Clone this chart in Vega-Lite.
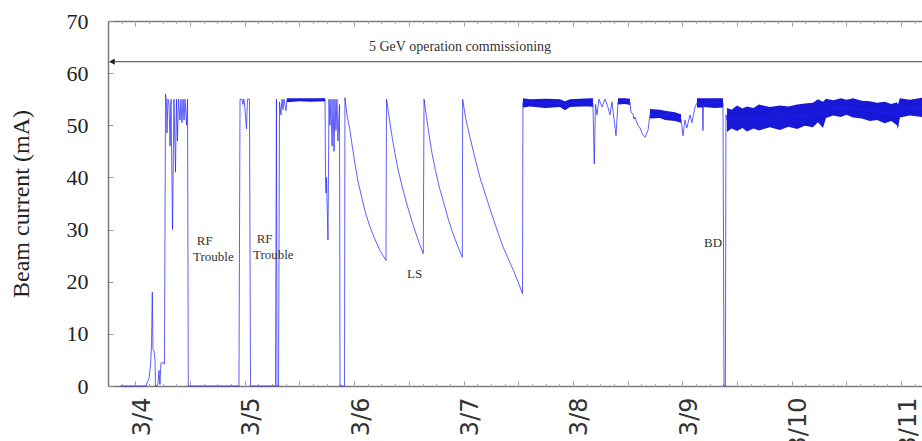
{
  "$schema": "https://vega.github.io/schema/vega-lite/v6.json",
  "width": 814,
  "height": 365,
  "autosize": "none",
  "padding": {"left": 108, "top": 21, "right": 0, "bottom": 55},
  "background": "white",
  "view": {"stroke": null},
  "config": {"font": "Liberation Serif", "axis": {"grid": false}},
  "datasets": {
    "beam": [
      {"day": 3.860, "mA": 0}, {"day": 4.097, "mA": 0}, {"day": 4.111, "mA": 0.8}, {"day": 4.125, "mA": 1.5},
      {"day": 4.139, "mA": 4}, {"day": 4.148, "mA": 8}, {"day": 4.155, "mA": 18}, {"day": 4.161, "mA": 7},
      {"day": 4.170, "mA": 6.8}, {"day": 4.180, "mA": 5}, {"day": 4.184, "mA": 0}, {"day": 4.198, "mA": 0},
      {"day": 4.207, "mA": 0.5}, {"day": 4.216, "mA": 3}, {"day": 4.225, "mA": 0.3}, {"day": 4.234, "mA": 4.4},
      {"day": 4.253, "mA": 4.5}, {"day": 4.266, "mA": 4.2}, {"day": 4.276, "mA": 56}, {"day": 4.285, "mA": 54.5},
      {"day": 4.289, "mA": 48.5}, {"day": 4.298, "mA": 55}, {"day": 4.308, "mA": 54.2}, {"day": 4.317, "mA": 46},
      {"day": 4.326, "mA": 55}, {"day": 4.340, "mA": 30}, {"day": 4.353, "mA": 55}, {"day": 4.367, "mA": 41},
      {"day": 4.376, "mA": 55}, {"day": 4.385, "mA": 47}, {"day": 4.394, "mA": 55}, {"day": 4.408, "mA": 51},
      {"day": 4.417, "mA": 55}, {"day": 4.426, "mA": 50.5}, {"day": 4.436, "mA": 55}, {"day": 4.445, "mA": 51},
      {"day": 4.454, "mA": 55}, {"day": 4.468, "mA": 50}, {"day": 4.477, "mA": 55}, {"day": 4.484, "mA": 0},
      {"day": 4.947, "mA": 0}, {"day": 4.957, "mA": 55}, {"day": 4.975, "mA": 55}, {"day": 4.984, "mA": 54},
      {"day": 4.993, "mA": 55}, {"day": 5.002, "mA": 53}, {"day": 5.016, "mA": 49.3}, {"day": 5.025, "mA": 55},
      {"day": 5.043, "mA": 55}, {"day": 5.053, "mA": 0}, {"day": 5.281, "mA": 0}, {"day": 5.290, "mA": 55},
      {"day": 5.295, "mA": 0}, {"day": 5.309, "mA": 0}, {"day": 5.318, "mA": 54.5}, {"day": 5.331, "mA": 52},
      {"day": 5.341, "mA": 55}, {"day": 5.350, "mA": 53}, {"day": 5.359, "mA": 55}, {"day": 5.377, "mA": 52.8},
      {"day": 5.386, "mA": 55}, {"day": 5.414, "mA": 54.9}, {"day": 5.734, "mA": 55}, {"day": 5.738, "mA": 41},
      {"day": 5.743, "mA": 37}, {"day": 5.747, "mA": 40}, {"day": 5.761, "mA": 28}, {"day": 5.770, "mA": 55},
      {"day": 5.779, "mA": 50}, {"day": 5.788, "mA": 55}, {"day": 5.798, "mA": 46}, {"day": 5.807, "mA": 55},
      {"day": 5.816, "mA": 45}, {"day": 5.825, "mA": 55}, {"day": 5.834, "mA": 49}, {"day": 5.843, "mA": 55},
      {"day": 5.852, "mA": 47}, {"day": 5.866, "mA": 54}, {"day": 5.871, "mA": 0}, {"day": 5.912, "mA": 0},
      {"day": 5.916, "mA": 55.3}, {"day": 5.935, "mA": 52}, {"day": 5.962, "mA": 49}, {"day": 5.985, "mA": 45.7},
      {"day": 6.008, "mA": 42.6}, {"day": 6.035, "mA": 39.3}, {"day": 6.069, "mA": 36.2}, {"day": 6.104, "mA": 33.2},
      {"day": 6.145, "mA": 30.5}, {"day": 6.191, "mA": 28.1}, {"day": 6.236, "mA": 26}, {"day": 6.291, "mA": 24.1},
      {"day": 6.296, "mA": 55}, {"day": 6.319, "mA": 51.7}, {"day": 6.343, "mA": 48.3}, {"day": 6.373, "mA": 44.6},
      {"day": 6.404, "mA": 41.3}, {"day": 6.442, "mA": 38}, {"day": 6.480, "mA": 35}, {"day": 6.520, "mA": 32.2},
      {"day": 6.556, "mA": 29.8}, {"day": 6.593, "mA": 27.5}, {"day": 6.632, "mA": 25.4}, {"day": 6.639, "mA": 55},
      {"day": 6.661, "mA": 51.7}, {"day": 6.684, "mA": 48.3}, {"day": 6.712, "mA": 44.6}, {"day": 6.744, "mA": 41.3},
      {"day": 6.780, "mA": 38}, {"day": 6.821, "mA": 35}, {"day": 6.858, "mA": 32.2}, {"day": 6.894, "mA": 29.8},
      {"day": 6.940, "mA": 27.2}, {"day": 6.989, "mA": 24.7}, {"day": 6.992, "mA": 55}, {"day": 7.018, "mA": 51.5},
      {"day": 7.059, "mA": 47.7}, {"day": 7.105, "mA": 43.7}, {"day": 7.150, "mA": 40}, {"day": 7.205, "mA": 36.4},
      {"day": 7.257, "mA": 33}, {"day": 7.310, "mA": 29.7}, {"day": 7.363, "mA": 26.6}, {"day": 7.411, "mA": 24.3},
      {"day": 7.455, "mA": 22.2}, {"day": 7.498, "mA": 20}, {"day": 7.539, "mA": 17.7}, {"day": 7.543, "mA": 54.5},
      {"day": 7.607, "mA": 54.3}, {"day": 7.882, "mA": 54.2}, {"day": 7.927, "mA": 53.8}, {"day": 7.973, "mA": 54.2},
      {"day": 8.156, "mA": 54.3}, {"day": 8.183, "mA": 54.3}, {"day": 8.195, "mA": 42.6}, {"day": 8.206, "mA": 54},
      {"day": 8.220, "mA": 52}, {"day": 8.238, "mA": 55}, {"day": 8.266, "mA": 53.5}, {"day": 8.293, "mA": 55},
      {"day": 8.320, "mA": 53.5}, {"day": 8.339, "mA": 52}, {"day": 8.357, "mA": 54.5}, {"day": 8.394, "mA": 48},
      {"day": 8.412, "mA": 54.5}, {"day": 8.476, "mA": 54.8}, {"day": 8.521, "mA": 54.5}, {"day": 8.531, "mA": 52.5},
      {"day": 8.549, "mA": 52.2}, {"day": 8.558, "mA": 51.2}, {"day": 8.567, "mA": 51.6}, {"day": 8.59, "mA": 50.2},
      {"day": 8.613, "mA": 49.5}, {"day": 8.636, "mA": 48.3}, {"day": 8.659, "mA": 47.7}, {"day": 8.686, "mA": 49},
      {"day": 8.704, "mA": 52}, {"day": 8.796, "mA": 52.2}, {"day": 8.933, "mA": 51.6}, {"day": 8.988, "mA": 51.2},
      {"day": 9.006, "mA": 48}, {"day": 9.024, "mA": 51}, {"day": 9.042, "mA": 49.5}, {"day": 9.070, "mA": 52},
      {"day": 9.088, "mA": 50.5}, {"day": 9.116, "mA": 53.5}, {"day": 9.134, "mA": 54.3}, {"day": 9.184, "mA": 54},
      {"day": 9.189, "mA": 49}, {"day": 9.193, "mA": 54}, {"day": 9.298, "mA": 54.4}, {"day": 9.372, "mA": 54.3},
      {"day": 9.381, "mA": 0}, {"day": 9.394, "mA": 0}, {"day": 9.399, "mA": 52}, {"day": 9.408, "mA": 51},
      {"day": 9.591, "mA": 51.2}, {"day": 9.893, "mA": 51.5}, {"day": 10.194, "mA": 52}, {"day": 10.240, "mA": 52.8},
      {"day": 10.286, "mA": 52}, {"day": 10.313, "mA": 53.2}, {"day": 10.560, "mA": 53.3}, {"day": 10.715, "mA": 52.7},
      {"day": 10.962, "mA": 52.2}, {"day": 10.971, "mA": 51.6}, {"day": 10.989, "mA": 53.3}, {"day": 11.191, "mA": 53.4}
    ],
    "band": [
      {"seg": "a", "day": 5.386, "lo": 54.4, "hi": 55.2}, {"seg": "a", "day": 5.5, "lo": 54.6, "hi": 55.2},
      {"seg": "a", "day": 5.6, "lo": 54.5, "hi": 55.2}, {"seg": "a", "day": 5.734, "lo": 54.6, "hi": 55.2},
      {"seg": "b", "day": 7.543, "lo": 53.4, "hi": 55.2}, {"seg": "b", "day": 7.607, "lo": 53.6, "hi": 55.0},
      {"seg": "b", "day": 7.75, "lo": 53.3, "hi": 55.1}, {"seg": "b", "day": 7.882, "lo": 53.5, "hi": 55.0},
      {"seg": "b", "day": 7.927, "lo": 52.9, "hi": 54.6}, {"seg": "b", "day": 7.973, "lo": 53.5, "hi": 55.0},
      {"seg": "b", "day": 8.07, "lo": 53.6, "hi": 55.1}, {"seg": "b", "day": 8.156, "lo": 53.6, "hi": 55.2},
      {"seg": "b", "day": 8.183, "lo": 53.5, "hi": 55.2},
      {"seg": "c", "day": 8.412, "lo": 54.0, "hi": 55.2}, {"seg": "c", "day": 8.476, "lo": 54.1, "hi": 55.2},
      {"seg": "c", "day": 8.521, "lo": 53.9, "hi": 55.1},
      {"seg": "d", "day": 8.704, "lo": 51.3, "hi": 53.1}, {"seg": "d", "day": 8.796, "lo": 51.4, "hi": 53.0},
      {"seg": "d", "day": 8.841, "lo": 51.0, "hi": 52.8}, {"seg": "d", "day": 8.933, "lo": 50.8, "hi": 52.5},
      {"seg": "d", "day": 8.988, "lo": 50.5, "hi": 52.1},
      {"seg": "e", "day": 9.134, "lo": 53.4, "hi": 55.2}, {"seg": "e", "day": 9.184, "lo": 53.4, "hi": 55.2},
      {"seg": "e", "day": 9.193, "lo": 53.5, "hi": 55.2}, {"seg": "e", "day": 9.298, "lo": 53.3, "hi": 55.2},
      {"seg": "e", "day": 9.372, "lo": 53.4, "hi": 55.2},
      {"seg": "f", "day": 9.408, "lo": 48.7, "hi": 53.3}, {"seg": "f", "day": 9.45, "lo": 49.4, "hi": 53.0},
      {"seg": "f", "day": 9.5, "lo": 48.9, "hi": 53.8}, {"seg": "f", "day": 9.55, "lo": 49.5, "hi": 53.2},
      {"seg": "f", "day": 9.591, "lo": 48.8, "hi": 53.6}, {"seg": "f", "day": 9.65, "lo": 49.4, "hi": 53.3},
      {"seg": "f", "day": 9.7, "lo": 49.0, "hi": 54.0}, {"seg": "f", "day": 9.8, "lo": 49.6, "hi": 53.5},
      {"seg": "f", "day": 9.893, "lo": 49.1, "hi": 53.8}, {"seg": "f", "day": 9.97, "lo": 49.7, "hi": 53.6},
      {"seg": "f", "day": 10.05, "lo": 49.3, "hi": 54.0}, {"seg": "f", "day": 10.12, "lo": 49.9, "hi": 54.2},
      {"seg": "f", "day": 10.194, "lo": 49.6, "hi": 54.3}, {"seg": "f", "day": 10.240, "lo": 50.6, "hi": 55.0},
      {"seg": "f", "day": 10.286, "lo": 49.5, "hi": 54.5}, {"seg": "f", "day": 10.313, "lo": 51.4, "hi": 55.1},
      {"seg": "f", "day": 10.38, "lo": 51.9, "hi": 54.8}, {"seg": "f", "day": 10.45, "lo": 51.6, "hi": 55.2},
      {"seg": "f", "day": 10.5, "lo": 52.0, "hi": 54.9}, {"seg": "f", "day": 10.560, "lo": 51.5, "hi": 55.2},
      {"seg": "f", "day": 10.64, "lo": 51.3, "hi": 54.7}, {"seg": "f", "day": 10.715, "lo": 50.8, "hi": 54.6},
      {"seg": "f", "day": 10.78, "lo": 51.0, "hi": 54.3}, {"seg": "f", "day": 10.85, "lo": 50.4, "hi": 54.5},
      {"seg": "f", "day": 10.91, "lo": 50.8, "hi": 54.1}, {"seg": "f", "day": 10.962, "lo": 50.0, "hi": 54.4},
      {"seg": "f", "day": 10.971, "lo": 49.3, "hi": 54.0}, {"seg": "f", "day": 10.989, "lo": 51.5, "hi": 55.2},
      {"seg": "f", "day": 11.08, "lo": 51.9, "hi": 54.9}, {"seg": "f", "day": 11.191, "lo": 51.6, "hi": 55.3}
    ],
    "notes": [
      {"day": 4.561, "mA": 27.0, "label": "RF"},
      {"day": 4.527, "mA": 24.0, "label": "Trouble"},
      {"day": 5.109, "mA": 27.4, "label": "RF"},
      {"day": 5.075, "mA": 24.3, "label": "Trouble"},
      {"day": 6.483, "mA": 20.7, "label": "LS"},
      {"day": 9.198, "mA": 26.7, "label": "BD"}
    ]
  },
  "layer": [
    {
      "data": {"name": "band"},
      "mark": {"type": "area", "color": "#0c0cd4", "opacity": 0.95},
      "encoding": {
        "x": {"field": "day", "type": "quantitative", "scale": {"domain": [3.75, 11.191], "nice": false, "zero": false},
          "axis": {"orient": "bottom", "values": [4,4.5,5,5.5,6,6.5,7,7.5,8,8.5,9,9.5,10,10.5,11],
            "labelExpr": "datum.value % 1 === 0 ? '3/' + datum.value : ''",
            "labelAngle": -90, "labelFont": "DejaVu Sans", "labelFontSize": 24, "labelColor": "#333",
            "labelPadding": 16, "labelOffset": 7, "labelOverlap": false, "labelFlush": false,
            "tickSize": -5, "tickColor": "#999", "domainColor": "#777", "domainWidth": 1.5, "title": null}},
        "y": {"field": "lo", "type": "quantitative", "scale": {"domain": [0, 70], "nice": false},
          "axis": {"orient": "left", "values": [0,10,20,30,40,50,60,70], "labelFont": "Liberation Serif",
            "labelFontSize": 22, "labelColor": "#222", "labelPadding": 25, "labelFlush": false,
            "tickSize": -5, "tickColor": "#999", "domainColor": "#777", "domainWidth": 1.5,
            "title": "Beam current (mA)", "titleFont": "Liberation Serif", "titleFontSize": 24,
            "titleFontWeight": "normal", "titleColor": "#222", "titlePadding": 33}},
        "y2": {"field": "hi"},
        "detail": {"field": "seg"}
      }
    },
    {
      "data": {"name": "beam"},
      "mark": {"type": "line", "color": "#2020ff", "strokeWidth": 0.9, "opacity": 0.8},
      "encoding": {
        "x": {"field": "day", "type": "quantitative", "scale": {"domain": [3.75, 11.191], "nice": false, "zero": false},
          "axis": {"orient": "bottom", "values": [3.875,4,4.125,4.25,4.375,4.5,4.625,4.75,4.875,5,5.125,5.25,5.375,5.5,5.625,5.75,5.875,6,6.125,6.25,6.375,6.5,6.625,6.75,6.875,7,7.125,7.25,7.375,7.5,7.625,7.75,7.875,8,8.125,8.25,8.375,8.5,8.625,8.75,8.875,9,9.125,9.25,9.375,9.5,9.625,9.75,9.875,10,10.125,10.25,10.375,10.5,10.625,10.75,10.875,11,11.125],
            "labels": false, "domain": false, "tickSize": -2.5, "tickColor": "#aaa", "title": null}},
        "y": {"field": "mA", "type": "quantitative", "scale": {"domain": [0, 70], "nice": false}, "axis": null}
      }
    },
    {
      "data": {"values": [{"from": 3.77, "to": 11.191, "mA": 62.2}]},
      "mark": {"type": "rule", "color": "#666", "strokeWidth": 1.2},
      "encoding": {
        "x": {"field": "from", "type": "quantitative", "scale": {"domain": [3.75, 11.191], "nice": false, "zero": false},
          "axis": {"orient": "top", "values": [4,4.5,5,5.5,6,6.5,7,7.5,8,8.5,9,9.5,10,10.5,11], "labels": false,
            "tickSize": -5, "tickColor": "#999", "domainColor": "#777", "domainWidth": 1.5, "title": null}},
        "x2": {"field": "to"},
        "y": {"field": "mA", "type": "quantitative", "scale": {"domain": [0, 70], "nice": false}, "axis": null}
      }
    },
    {
      "data": {"values": [{"day": 3.786, "mA": 62.2}]},
      "mark": {"type": "point", "shape": "triangle-left", "filled": true, "color": "#222", "size": 40, "opacity": 1},
      "encoding": {
        "x": {"field": "day", "type": "quantitative", "scale": {"domain": [3.75, 11.191], "nice": false, "zero": false},
          "axis": {"orient": "top", "values": [3.875,4,4.125,4.25,4.375,4.5,4.625,4.75,4.875,5,5.125,5.25,5.375,5.5,5.625,5.75,5.875,6,6.125,6.25,6.375,6.5,6.625,6.75,6.875,7,7.125,7.25,7.375,7.5,7.625,7.75,7.875,8,8.125,8.25,8.375,8.5,8.625,8.75,8.875,9,9.125,9.25,9.375,9.5,9.625,9.75,9.875,10,10.125,10.25,10.375,10.5,10.625,10.75,10.875,11,11.125],
            "labels": false, "domain": false, "tickSize": -2.5, "tickColor": "#aaa", "title": null}},
        "y": {"field": "mA", "type": "quantitative", "scale": {"domain": [0, 70], "nice": false}, "axis": null}
      }
    },
    {
      "data": {"name": "notes"},
      "mark": {"type": "text", "font": "Liberation Serif", "fontSize": 13, "color": "#333", "align": "left", "baseline": "alphabetic"},
      "encoding": {
        "x": {"field": "day", "type": "quantitative", "axis": null},
        "y": {"field": "mA", "type": "quantitative", "axis": null},
        "text": {"field": "label"}
      }
    },
    {
      "data": {"values": [{"day": 6.968, "mA": 64.2, "label": "5 GeV operation commissioning"}]},
      "mark": {"type": "text", "font": "Liberation Serif", "fontSize": 14, "color": "#333", "align": "center", "baseline": "alphabetic"},
      "encoding": {
        "x": {"field": "day", "type": "quantitative", "axis": null},
        "y": {"field": "mA", "type": "quantitative", "axis": null},
        "text": {"field": "label"}
      }
    }
  ],
  "resolve": {"axis": {"x": "independent", "y": "independent"}}
}
